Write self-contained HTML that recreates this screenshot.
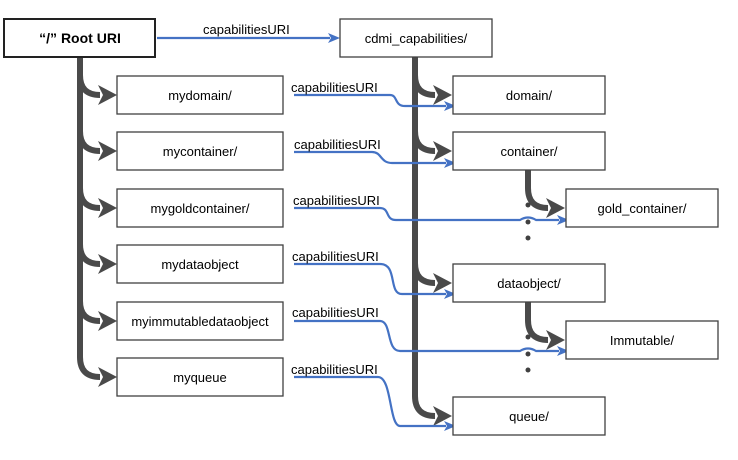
<!DOCTYPE html>
<html><head><style>body{margin:0;background:#fff}</style></head><body>
<svg width="738" height="455" xmlns="http://www.w3.org/2000/svg" font-family="Liberation Sans, Arial, sans-serif" font-size="13">
<defs>
<g id="ga"><path d="M0,-20 Q0,0 20,0" fill="none" stroke="#4a4a4a" stroke-width="6"/><path d="M37,0 L18,-10 L23,0 L18,10 Z" fill="#4a4a4a"/></g>
<g id="ba"><path d="M0,0 L-12,-5 L-9,0 L-12,5 Z" fill="#4472c4"/></g>
</defs>
<g fill="none" stroke="#4a4a4a" stroke-width="6">
<path d="M80,57 V357"/>
<path d="M415,57 V396"/>
<path d="M528,170 V188"/>
<path d="M528,302 V320"/>
</g>
<use href="#ga" x="80" y="95"/><use href="#ga" x="80" y="151"/><use href="#ga" x="80" y="208"/>
<use href="#ga" x="80" y="264"/><use href="#ga" x="80" y="321"/><use href="#ga" x="80" y="377"/>
<use href="#ga" x="415" y="95"/><use href="#ga" x="415" y="151"/><use href="#ga" x="415" y="283"/>
<use href="#ga" x="415" y="416"/>
<use href="#ga" x="528" y="208"/><use href="#ga" x="528" y="340"/>
<g fill="#404040">
<circle cx="528" cy="205" r="2.5"/><circle cx="528" cy="222" r="2.5"/><circle cx="528" cy="238" r="2.5"/>
<circle cx="528" cy="337" r="2.5"/><circle cx="528" cy="354" r="2.5"/><circle cx="528" cy="370" r="2.5"/>
</g>
<g fill="none" stroke="#4472c4" stroke-width="2.2">
<path d="M157,38 H330"/>
<path d="M294,95 H390 C398,95 394,106 405,106 H446"/>
<path d="M294,152 H372 C382,152 380,163 392,163 H446"/>
<path d="M294,208 H380 C390,208 385,220 396,220 H520 Q528,215 536,220 H559"/>
<path d="M294,264 H380 C398,264 388,294 402,294 H446"/>
<path d="M294,321 H380 C392,321 386,351 400,351 H520 Q528,346 536,351 H559"/>
<path d="M294,377 H378 C392,377 389,426 400,426 H446"/>
</g>
<use href="#ba" x="340" y="38"/><use href="#ba" x="456" y="106"/><use href="#ba" x="456" y="163"/>
<use href="#ba" x="569" y="220"/><use href="#ba" x="456" y="294"/><use href="#ba" x="569" y="351"/>
<use href="#ba" x="456" y="426"/>
<g fill="#fff" stroke="#404040" stroke-width="1.3">
<rect x="4" y="19" width="151" height="38" stroke-width="2" stroke="#222"/>
<rect x="340" y="19" width="152" height="38"/>
<rect x="117" y="76" width="166" height="38"/>
<rect x="117" y="132" width="166" height="38"/>
<rect x="117" y="189" width="166" height="38"/>
<rect x="117" y="245" width="166" height="38"/>
<rect x="117" y="302" width="166" height="38"/>
<rect x="117" y="358" width="166" height="38"/>
<rect x="453" y="76" width="152" height="38"/>
<rect x="453" y="132" width="152" height="38"/>
<rect x="566" y="189" width="152" height="38"/>
<rect x="453" y="264" width="152" height="38"/>
<rect x="566" y="321" width="152" height="38"/>
<rect x="453" y="397" width="152" height="38"/>
</g>
<g fill="#000" text-anchor="middle">
<text x="80" y="43" font-weight="bold" font-size="14">“/” Root URI</text>
<text x="416" y="43">cdmi_capabilities/</text>
<text x="200" y="100">mydomain/</text>
<text x="200" y="156">mycontainer/</text>
<text x="200" y="213">mygoldcontainer/</text>
<text x="200" y="269">mydataobject</text>
<text x="200" y="326">myimmutabledataobject</text>
<text x="200" y="382">myqueue</text>
<text x="529" y="100">domain/</text>
<text x="529" y="156">container/</text>
<text x="642" y="213">gold_container/</text>
<text x="529" y="288">dataobject/</text>
<text x="642" y="345">Immutable/</text>
<text x="529" y="421">queue/</text>
</g>
<g fill="#000">
<text x="203" y="34">capabilitiesURI</text>
<text x="291" y="92">capabilitiesURI</text>
<text x="294" y="149">capabilitiesURI</text>
<text x="293" y="205">capabilitiesURI</text>
<text x="292" y="261">capabilitiesURI</text>
<text x="292" y="317">capabilitiesURI</text>
<text x="291" y="374">capabilitiesURI</text>
</g>
</svg>
</body></html>
